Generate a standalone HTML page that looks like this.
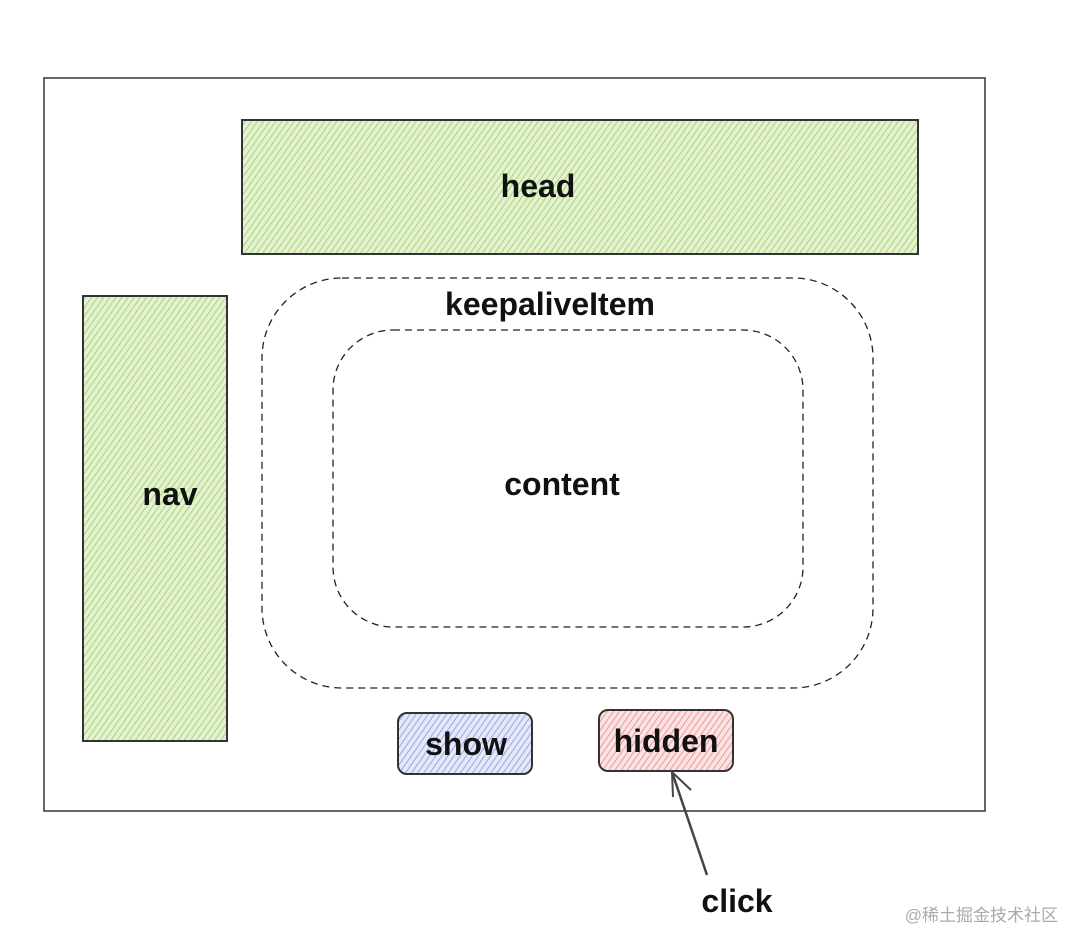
<!DOCTYPE html>
<html><head><meta charset="utf-8"><style>
html,body{margin:0;padding:0;background:#fff;width:1084px;height:950px;overflow:hidden}
</style></head><body>
<svg width="1084" height="950" xmlns="http://www.w3.org/2000/svg">
<defs>
<pattern id="g" width="5" height="5" patternUnits="userSpaceOnUse" patternTransform="rotate(35)">
<rect width="5" height="5" fill="#e4f2d0"/><line x1="0" y1="0" x2="0" y2="5" stroke="#a9d47a" stroke-width="2"/></pattern>
<pattern id="b" width="5" height="5" patternUnits="userSpaceOnUse" patternTransform="rotate(35)">
<rect width="5" height="5" fill="#e4e8f8"/><line x1="0" y1="0" x2="0" y2="5" stroke="#9aa6e0" stroke-width="2"/></pattern>
<pattern id="r" width="5" height="5" patternUnits="userSpaceOnUse" patternTransform="rotate(35)">
<rect width="5" height="5" fill="#fbe3e3"/><line x1="0" y1="0" x2="0" y2="5" stroke="#eb9a9a" stroke-width="2"/></pattern>
</defs>
<rect x="44" y="78" width="941" height="733" fill="none" stroke="#333" stroke-width="1.5"/>
<rect x="242" y="120" width="676" height="134" fill="url(#g)" stroke="#333" stroke-width="2"/>
<rect x="83" y="296" width="144" height="445" fill="url(#g)" stroke="#333" stroke-width="2"/>
<rect x="262" y="278" width="611" height="410" rx="80" fill="none" stroke="#222" stroke-width="1.3" stroke-dasharray="7 5"/>
<rect x="333" y="330" width="470" height="297" rx="60" fill="none" stroke="#222" stroke-width="1.3" stroke-dasharray="7 5"/>
<rect x="398" y="713" width="134" height="61" rx="9" fill="url(#b)" stroke="#333" stroke-width="2"/>
<rect x="599" y="710" width="134" height="61" rx="9" fill="url(#r)" stroke="#333" stroke-width="2"/>
<line x1="707" y1="875" x2="672" y2="772" stroke="#444" stroke-width="2.5"/>
<polyline points="673,797 672,772 691,790" fill="none" stroke="#444" stroke-width="2"/>
<g font-family="'Liberation Sans',sans-serif" font-size="32" font-weight="bold" fill="#111" text-anchor="middle">
<text x="538" y="197">head</text>
<text x="170" y="505">nav</text>
<text x="550" y="315">keepaliveItem</text>
<text x="562" y="495">content</text>
<text x="466" y="755">show</text>
<text x="666" y="752">hidden</text>
<text x="737" y="912">click</text>
</g>
<text x="1058" y="921" text-anchor="end" font-family="'Liberation Sans','Noto Sans CJK SC',sans-serif" font-size="17" fill="#aaa">@稀土掘金技术社区</text>
</svg>
</body></html>
